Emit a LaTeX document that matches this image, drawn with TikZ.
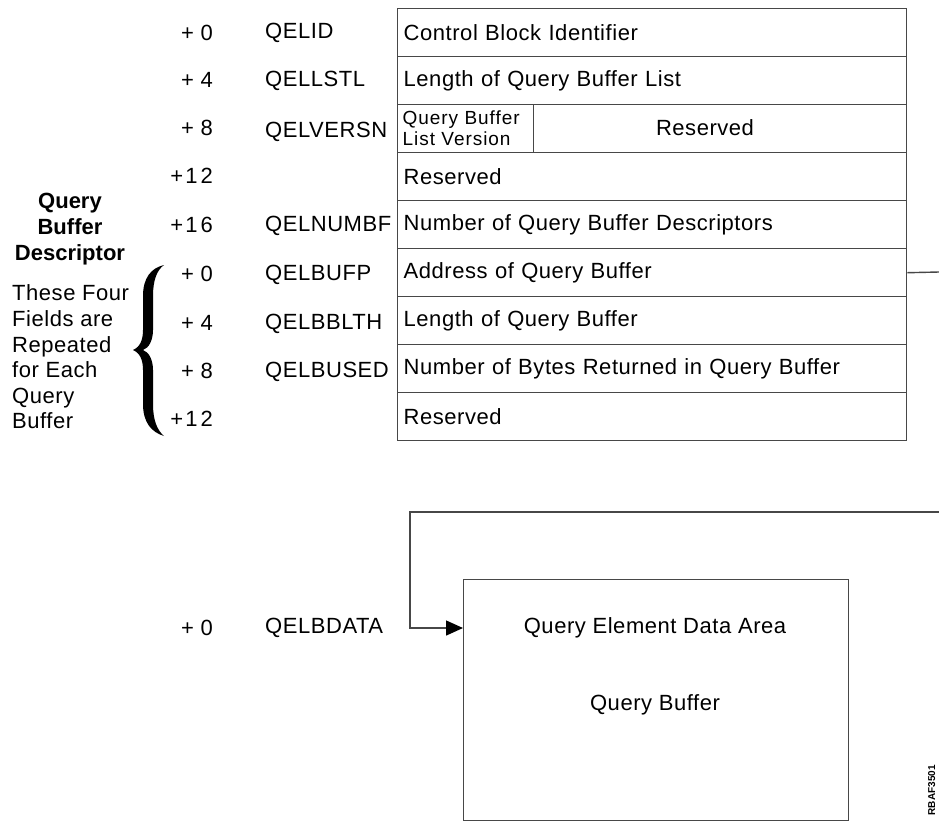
\documentclass[tikz,border=0pt]{standalone}
\usepackage{fontspec}
\setmainfont{Liberation Sans}
\usetikzlibrary{arrows.meta}
\definecolor{linec}{gray}{0.28}
\begin{document}
\begin{tikzpicture}[x=1pt,y=-1pt,
  every node/.style={inner sep=0pt},
  big/.style={font=\fontsize{22}{25.6}\selectfont\addfontfeature{LetterSpace=2.5}},
  small/.style={font=\fontsize{19}{21}\selectfont\addfontfeature{LetterSpace=5}},
  bigb/.style={font=\fontsize{22}{25.6}\selectfont\bfseries},
  rowbox/.style={draw=linec, line width=1.4pt, minimum height=48pt, text width=497pt,
    inner xsep=6pt, inner ysep=0pt, align=left, anchor=north west, big},
  cellbox/.style={draw=linec, line width=1.4pt, minimum height=48pt, anchor=north west},
  offs/.style={anchor=east, big},
  fname/.style={anchor=west, big},
  conn/.style={draw=linec, line width=1.4pt},
  tip/.style={-{Triangle[length=17pt,width=15pt,color=black]}}
]
\clip (0,0) rectangle (939,823);
\useasboundingbox (0,0) rectangle (939,823);

% main table
\node[rowbox] (r1) at (397,8) {Control Block Identifier};
\node[rowbox] (r2) at (397,56) {Length of Query Buffer List};
\node[cellbox, minimum width=136pt, text width=126pt, inner xsep=5pt, align=left, small] (r3a) at (397,104) {Query Buffer\\List Version};
\node[cellbox, minimum width=373pt] (r3b) at (533,104) {};
\node[big] (r3t) at (705,128) {Reserved};
\node[rowbox] (r4) at (397,152) {Reserved};
\node[rowbox] (r5) at (397,200) {Number of Query Buffer Descriptors};
\node[rowbox] (r6) at (397,248) {Address of Query Buffer};
\node[rowbox] (r7) at (397,296) {Length of Query Buffer};
\node[rowbox] (r8) at (397,344) {Number of Bytes Returned in Query Buffer};
\node[rowbox] (r9) at (397,392) {Reserved};

% offsets
\node[offs] (o1) at (213,33) {+ 0};
\node[offs] (o2) at (213,80) {+ 4};
\node[offs] (o3) at (213,128) {+ 8};
\node[offs] (o4) at (213,176) {+\kern2pt1\kern3pt2};
\node[offs] (o5) at (213,225) {+\kern2pt1\kern3pt6};
\node[offs] (o6) at (213,274) {+ 0};
\node[offs] (o7) at (213,323) {+ 4};
\node[offs] (o8) at (213,371) {+ 8};
\node[offs] (o9) at (213,419) {+\kern2pt1\kern3pt2};

% field names
\node[fname] (n1) at (265,33) {QELID};
\node[fname] (n2) at (265,81) {QELLSTL};
\node[fname] (n3) at (265,132) {QELVERSN};
\node[fname] (n5) at (265,226) {QELNUMBF};
\node[fname] (n6) at (265,275) {QELBUFP};
\node[fname] (n7) at (265,324) {QELBBLTH};
\node[fname] (n8) at (265,372) {QELBUSED};

% left annotations
\node[bigb, align=center] (qbd) at (70,229) {Query\\Buffer\\Descriptor};
\node[big, align=left, anchor=west] (four) at (12,357) {These Four\\Fields are\\Repeated\\for Each\\Query\\Buffer};

% brace
\fill (164,265) .. controls (151,268) and (143,278) .. (143,296) -- (143,330)
  .. controls (143,340) and (140,347) .. (133,350)
  .. controls (140,353) and (143,360) .. (143,370) -- (143,404)
  .. controls (143,422) and (151,432) .. (164,436)
  .. controls (157,430) and (153,420) .. (153,404) -- (153,370)
  .. controls (153,360) and (149,352) .. (143,350)
  .. controls (149,348) and (153,340) .. (153,330) -- (153,296)
  .. controls (153,280) and (157,270) .. (164,265) -- cycle;

% query buffer
\node[draw=linec, line width=1.4pt, minimum width=385pt, minimum height=241pt, anchor=north west] (qb) at (463,579) {};
\node[big] (qe) at (655,628) {Query Element Data Area};
\node[big] (qbt) at (655,705) {Query Buffer};
\node[offs] (o10) at (213,628) {+ 0};
\node[fname] (n10) at (265,628) {QELBDATA};

% connectors
\coordinate (outA) at (939,272);
\coordinate (outB) at (939,512);
\coordinate (bend) at (410,512);
\draw[conn] (r6.east) -- (outA);
\draw[conn, tip] (outB) -- (bend) |- (qb.west |- qe);

% figure id
\node[font=\fontsize{10}{10}\selectfont\bfseries, rotate=90, anchor=base east] (fid) at (935,765) {RBAF3501};
\end{tikzpicture}
\end{document}
